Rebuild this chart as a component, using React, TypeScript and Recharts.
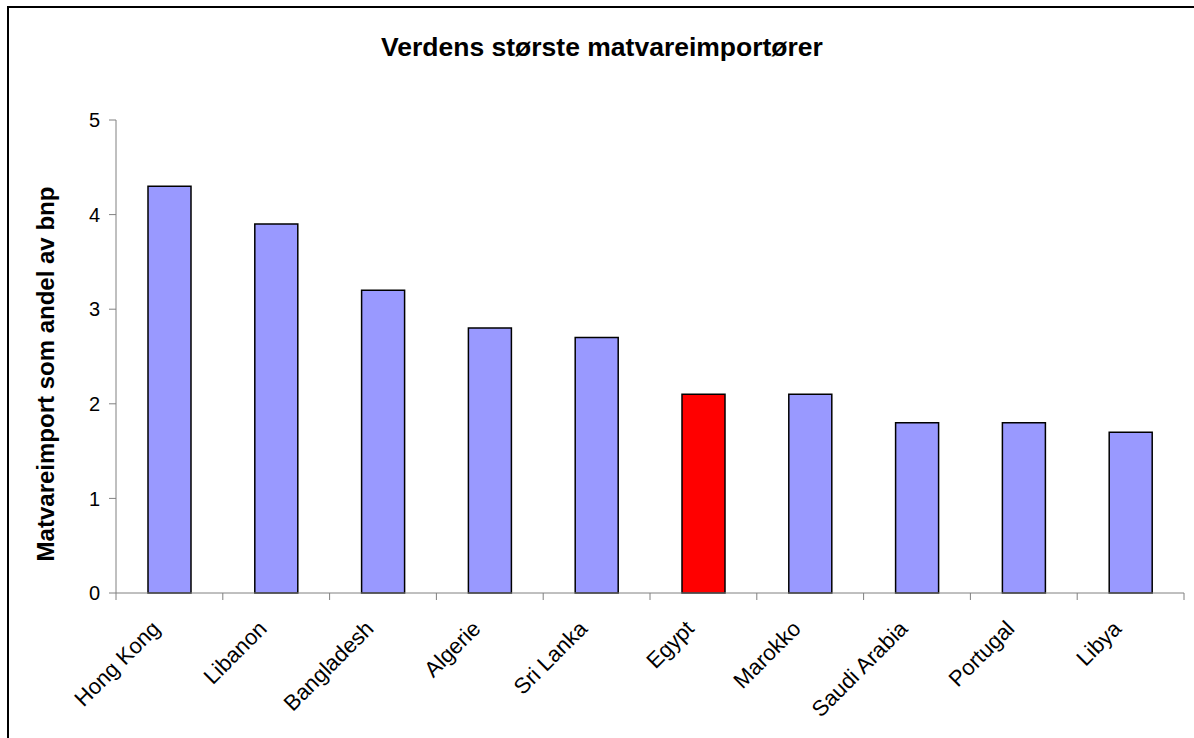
import React from 'react';
import { BarChart, Bar, XAxis, YAxis, Cell } from 'recharts';

const countries = [
  'Hong Kong',
  'Libanon',
  'Bangladesh',
  'Algerie',
  'Sri Lanka',
  'Egypt',
  'Marokko',
  'Saudi Arabia',
  'Portugal',
  'Libya',
];
const importShare = [4.3, 3.9, 3.2, 2.8, 2.7, 2.1, 2.1, 1.8, 1.8, 1.7];
const highlighted = 'Egypt';
const yTicks = [0, 1, 2, 3, 4, 5];

const data = countries.map((name, i) => ({ name, value: importShare[i] }));

const FONT = "Arial, 'Liberation Sans', sans-serif";
const W = 1194;
const H = 738;
const X_AXIS_H = 40;
const MARGIN = { top: 120, right: 10, bottom: 105, left: 0 };
const Y_AXIS_W = 116;
const AXIS_Y = H - MARGIN.bottom - X_AXIS_H;
const plotW = W - MARGIN.left - MARGIN.right - Y_AXIS_W;
const band = plotW / countries.length;
const AXIS_COLOR = '#808080';

// ticks sit between categories like in the spreadsheet original
function CategoryTick(props: any) {
  const { x, payload, index } = props;
  const lx = x - 8;
  const ly = AXIS_Y + 37;
  return (
    <g>
      <line x1={x - band / 2} y1={AXIS_Y} x2={x - band / 2} y2={AXIS_Y + 7} stroke={AXIS_COLOR} />
      {index === countries.length - 1 && (
        <line x1={x + band / 2} y1={AXIS_Y} x2={x + band / 2} y2={AXIS_Y + 7} stroke={AXIS_COLOR} />
      )}
      <text
        x={lx}
        y={ly}
        textAnchor="end"
        fontSize={22}
        fontFamily={FONT}
        fill="#000"
        transform={`rotate(-45, ${lx}, ${ly})`}
      >
        {payload.value}
      </text>
    </g>
  );
}

export default function App() {
  return (
    <div
      style={{
        position: 'absolute',
        left: 0,
        top: 0,
        width: W,
        height: H,
        overflow: 'hidden',
        background: '#fff',
        fontFamily: FONT,
      }}
    >
      <div
        style={{
          position: 'absolute',
          left: 7,
          top: 6,
          width: W + 20,
          height: H + 20,
          borderTop: '2px solid #000',
          borderLeft: '2px solid #000',
          boxSizing: 'border-box',
        }}
      />
      <div
        style={{
          position: 'absolute',
          left: 0,
          width: 1204,
          top: 32,
          textAlign: 'center',
          fontWeight: 'bold',
          fontSize: 26.5,
          lineHeight: '30px',
        }}
      >
        Verdens største matvareimportører
      </div>
      <div
        style={{
          position: 'absolute',
          left: 46,
          top: 374,
          transform: 'translate(-50%, -50%) rotate(-90deg)',
          whiteSpace: 'nowrap',
          fontWeight: 'bold',
          fontSize: 24,
          lineHeight: '26px',
        }}
      >
        Matvareimport som andel av bnp
      </div>
      <div style={{ position: 'absolute', left: 0, top: 0 }}>
        <BarChart width={W} height={H} data={data} margin={MARGIN} barSize={43}>
          <XAxis
            dataKey="name"
            stroke={AXIS_COLOR}
            tickLine={false}
            interval={0}
            tick={<CategoryTick />}
            height={X_AXIS_H}
          />
          <YAxis
            width={Y_AXIS_W}
            domain={[0, 5]}
            ticks={yTicks}
            stroke={AXIS_COLOR}
            tickSize={7}
            tickMargin={9}
            tick={{ fill: '#000', fontSize: 20, fontFamily: FONT }}
          />
          <Bar dataKey="value" stroke="#000" strokeWidth={1.5} isAnimationActive={false}>
            {data.map((d) => (
              <Cell key={d.name} fill={d.name === highlighted ? '#FF0000' : '#9999FF'} />
            ))}
          </Bar>
        </BarChart>
      </div>
    </div>
  );
}
